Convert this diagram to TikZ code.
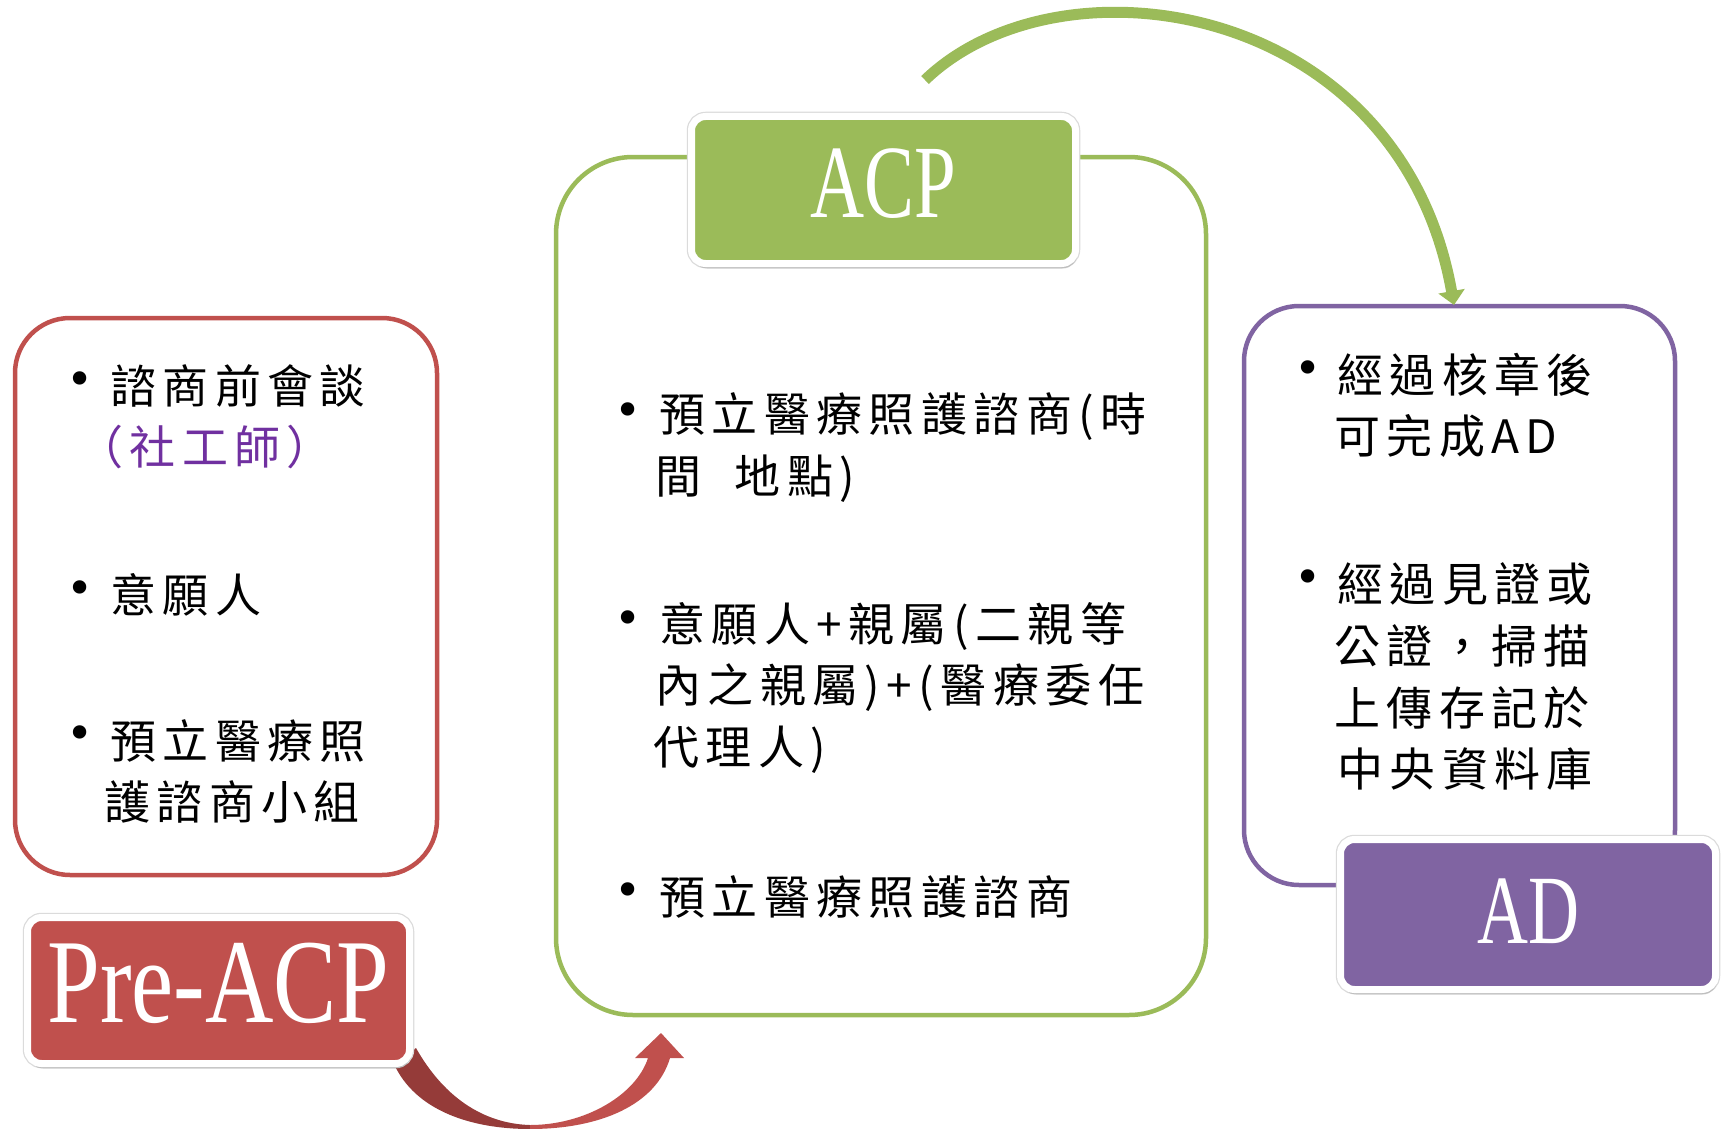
\documentclass[tikz,border=0pt]{standalone}
\usepackage{fontspec}
\usetikzlibrary{arrows.meta,shadows}
\newfontfamily\cjk[LetterSpace=14]{Noto Sans CJK TC}
\newfontfamily\tagfont[FakeStretch=0.72]{Liberation Serif}
\newfontfamily\pretagfont[FakeStretch=0.79]{Liberation Serif}
\newfontfamily\bulfont{DejaVu Sans}
\definecolor{cred}{HTML}{C0504D}
\definecolor{cdarkred}{HTML}{953B39}
\definecolor{cgreen}{HTML}{9BBB59}
\definecolor{cpurple}{HTML}{8064A2}
\definecolor{cviolet}{HTML}{7030A0}
\begin{document}
\begin{tikzpicture}[x=1pt,y=-1pt,
  listbox/.style={draw, line width=4.5pt, fill=white, inner sep=0pt},
  tagbox/.style={draw=white, line width=7pt, rounded corners=14pt, inner sep=0pt, text=white,
    preaction={draw=black!14, line width=9.5pt},
    drop shadow={opacity=0.3, shadow xshift=1.5pt, shadow yshift=-5pt}},
  item/.style={anchor=west, inner sep=0pt, font=\cjk\fontsize{46pt}{56pt}\selectfont},
  dot/.style={anchor=center, inner sep=0pt, font=\bulfont\fontsize{46pt}{46pt}\selectfont},
]
\useasboundingbox (0,0) rectangle (1721,1129);

% list boxes
\node[listbox, draw=cred, rounded corners=55pt, minimum width=422pt, minimum height=557pt] (redbox) at (226,596.5) {};
\node[listbox, draw=cgreen, rounded corners=77pt, minimum width=650pt, minimum height=858pt] (greenbox) at (881,586) {};
\node[listbox, draw=cpurple, rounded corners=55pt, minimum width=431pt, minimum height=579pt] (purplebox) at (1459.5,595.5) {};

% red curved ribbon arrow (Pre-ACP -> ACP)
\coordinate (redtailin) at (416,1048);
\coordinate (redtailout) at (394,1064);
\coordinate (redbottom) at (530,1127);
\coordinate (redtip) at (661,1033);
\fill[cdarkred] (redtailin) .. controls (450,1108) and (495,1124) .. (530,1125)
  -- (530,1129) .. controls (470,1129) and (415,1110) .. (redtailout) -- cycle;
\fill[cred] (530,1125) .. controls (585,1125) and (636,1095) .. (648,1058)
  -- (635,1058) -- (redtip) -- (684,1058) -- (670,1058)
  .. controls (656,1105) and (600,1129) .. (530,1129) -- cycle;

% green arc arrow (ACP -> AD)
\coordinate (greentail) at (925,80);
\coordinate (greentip) at (1454,305);
\draw[cgreen, line width=11pt, -{Triangle[width=26pt,length=14pt]}]
  (greentail) .. controls (1060,-50) and (1400,0) .. (greentip);

% tags
\node[tagbox, fill=cred, minimum width=382pt, minimum height=146pt, text depth=16pt,
  font=\pretagfont\fontsize{120pt}{120pt}\selectfont] (pretag) at (218.5,990.5) {Pre-ACP};
\node[tagbox, fill=cgreen, minimum width=384pt, minimum height=147pt, text depth=14pt,
  font=\tagfont\fontsize{104pt}{104pt}\selectfont] (acptag) at (883.5,190) {ACP};
\node[tagbox, fill=cpurple, minimum width=375pt, minimum height=150pt, text depth=7pt,
  font=\tagfont\fontsize{98pt}{98pt}\selectfont] (adtag) at (1528,914.5) {AD};

% left items
\node[dot] (lb1) at (80,384) {•};
\node[item] (l1a) at (110,386) {諮商前會談};
\node[item, text=cviolet] (l1b) at (77,447) {（社工師）};
\node[dot] (lb2) at (80,593) {•};
\node[item] (l2) at (110,595) {意願人};
\node[dot] (lb3) at (80,738) {•};
\node[item] (l3a) at (110,741) {預立醫療照};
\node[item] (l3b) at (104,802) {護諮商小組};

% middle items
\node[dot] (mb1) at (628,415) {•};
\node[item] (m1a) at (659,417) {預立醫療照護諮商(時};
\node[item] (m1b) at (655,479) {間~~地點)};
\node[dot] (mb2) at (628,623) {•};
\node[item] (m2a) at (659,626) {意願人+親屬(二親等};
\node[item] (m2b) at (655,688) {內之親屬)+(醫療委任};
\node[item] (m2c) at (653,750) {代理人)};
\node[dot] (mb3) at (628,895) {•};
\node[item] (m3) at (659,897) {預立醫療照護諮商};

% right items
\node[dot] (rb1) at (1308,373) {•};
\node[item] (r1a) at (1337,375) {經過核章後};
\node[item] (r1b) at (1334,436) {可完成AD};
\node[dot] (rb2) at (1308,582) {•};
\node[item] (r2a) at (1337,584) {經過見證或};
\node[item] (r2b) at (1334,646) {公證，掃描};
\node[item] (r2c) at (1334,708) {上傳存記於};
\node[item] (r2d) at (1337,769) {中央資料庫};
\end{tikzpicture}
\end{document}
